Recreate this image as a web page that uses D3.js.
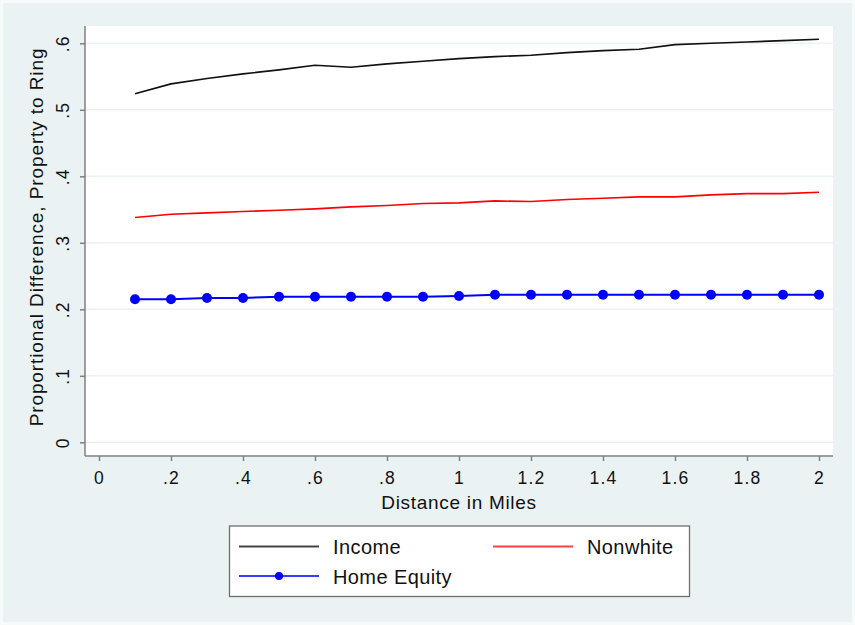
<!DOCTYPE html>
<html>
<head>
<meta charset="utf-8">
<script src="https://cdn.jsdelivr.net/npm/d3@7"></script>
<style>
  html, body { margin: 0; padding: 0; background: #eaf2f3; }
  svg { display: block; }
  text { font-family: "Liberation Sans", Arial, Helvetica, sans-serif; fill: #111; }
</style>
</head>
<body>
<svg id="chart" width="855" height="625"></svg>
<script>
const distance = [0.1,0.2,0.3,0.4,0.5,0.6,0.7,0.8,0.9,1.0,1.1,1.2,1.3,1.4,1.5,1.6,1.7,1.8,1.9,2.0];
const income = [0.524,0.539,0.547,0.554,0.560,0.567,0.564,0.569,0.573,0.577,0.580,0.582,0.586,0.589,0.591,0.598,0.600,0.602,0.604,0.606];
const nonwhite = [0.338,0.343,0.345,0.347,0.349,0.351,0.354,0.356,0.359,0.360,0.363,0.362,0.365,0.367,0.369,0.369,0.372,0.374,0.374,0.376];
const homeEquity = [0.215,0.215,0.217,0.217,0.219,0.219,0.219,0.219,0.219,0.220,0.222,0.222,0.222,0.222,0.222,0.222,0.222,0.222,0.222,0.222];
const xTicks = [0,0.2,0.4,0.6,0.8,1,1.2,1.4,1.6,1.8,2];
const xTickLabels = ["0",".2",".4",".6",".8","1","1.2","1.4","1.6","1.8","2"];
const yTicks = [0,0.1,0.2,0.3,0.4,0.5,0.6];
const yTickLabels = ["0",".1",".2",".3",".4",".5",".6"];
const seriesNames = ["Income","Nonwhite","Home Equity"];
const seriesColors = ["#111111","#ff0000","#0000ff"];
const legendColors = ["#444444","#ff4040","#3a3aff"];

const svg = d3.select("#chart");
const W = 855, H = 625;
svg.append("rect").attr("width", W).attr("height", H).attr("fill", "#eaf2f3");
svg.append("rect").attr("x", 1.5).attr("y", 1.5).attr("width", W-3).attr("height", H-3)
  .attr("fill", "none").attr("stroke", "#f6fafa").attr("stroke-width", 3);

const plot = {left: 85, right: 833, top: 26, bottom: 456};
const x = d3.scaleLinear().domain([0, 2]).range([99, 819]);
const y = d3.scaleLinear().domain([0, 0.6]).range([442.3, 43.3]);

svg.append("rect").attr("x", plot.left).attr("y", plot.top)
  .attr("width", plot.right - plot.left).attr("height", plot.bottom - plot.top)
  .attr("fill", "#ffffff");

// gridlines
svg.append("g").selectAll("line").data(yTicks).join("line")
  .attr("x1", plot.left).attr("x2", plot.right)
  .attr("y1", d => y(d)).attr("y2", d => y(d))
  .attr("stroke", "#eaf2f3").attr("stroke-width", 1.6);

// y axis
const yAxis = d3.axisLeft(y).tickValues(yTicks).tickSize(5).tickPadding(8)
  .tickFormat((d, i) => yTickLabels[i]);
const gy = svg.append("g").attr("transform", `translate(${plot.left},0)`).call(yAxis);
gy.select(".domain").attr("d", `M0,${plot.top}V${plot.bottom}`).attr("stroke", "#808080").attr("stroke-width", 1.5);
gy.selectAll(".tick line").attr("stroke", "#808080").attr("stroke-width", 1.5);
gy.selectAll(".tick text")
  .attr("font-size", 17.5).attr("letter-spacing", 1.2).attr("fill", "#111")
  .attr("transform", "rotate(-90)")
  .attr("x", 0).attr("y", -16)
  .attr("text-anchor", "middle").attr("dy", "0");

// x axis
const xAxis = d3.axisBottom(x).tickValues(xTicks).tickSize(5).tickPadding(7)
  .tickFormat((d, i) => xTickLabels[i]);
const gx = svg.append("g").attr("transform", `translate(0,${plot.bottom})`).call(xAxis);
gx.select(".domain").attr("d", `M${plot.left},0H${plot.right}`).attr("stroke", "#808080").attr("stroke-width", 1.5);
gx.selectAll(".tick line").attr("stroke", "#808080").attr("stroke-width", 1.5);
gx.selectAll(".tick text").attr("font-size", 17.5).attr("letter-spacing", 1.2).attr("fill", "#111")
  .attr("dy", 0).attr("y", 28);

// axis titles
svg.append("text").attr("x", 459).attr("y", 509)
  .attr("text-anchor", "middle").attr("font-size", 19).attr("letter-spacing", 0.7).text("Distance in Miles");
svg.append("text").attr("transform", `translate(43,${(plot.top + plot.bottom) / 2 - 4}) rotate(-90)`)
  .attr("text-anchor", "middle").attr("font-size", 19).attr("letter-spacing", 0.9).text("Proportional Difference, Property to Ring");

// series
const line = d3.line().x((d, i) => x(distance[i])).y(d => y(d));
const allSeries = [income, nonwhite, homeEquity];
allSeries.forEach((s, k) => {
  svg.append("path").datum(s).attr("d", line)
    .attr("fill", "none").attr("stroke", seriesColors[k])
    .attr("stroke-width", k === 2 ? 2 : 1.6).attr("stroke-linejoin", "round");
});
svg.append("g").selectAll("circle").data(homeEquity).join("circle")
  .attr("cx", (d, i) => x(distance[i])).attr("cy", d => y(d)).attr("r", 5)
  .attr("fill", "#0000ff");

// legend
const lg = svg.append("g");
lg.append("rect").attr("x", 229.5).attr("y", 526).attr("width", 460).attr("height", 70.5)
  .attr("fill", "#ffffff").attr("stroke", "#6e6e6e").attr("stroke-width", 1.3);
const legendItems = [
  {x: 239, y: 546.5, k: 0},
  {x: 493, y: 546.5, k: 1},
  {x: 239, y: 576, k: 2}
];
legendItems.forEach(it => {
  lg.append("line").attr("x1", it.x).attr("x2", it.x + 80).attr("y1", it.y).attr("y2", it.y)
    .attr("stroke", legendColors[it.k]).attr("stroke-width", 2);
  if (it.k === 2) {
    lg.append("circle").attr("cx", it.x + 40).attr("cy", it.y).attr("r", 4).attr("fill", "#0000ff");
  }
  lg.append("text").attr("x", it.x + 94).attr("y", it.y + 7.5)
    .attr("font-size", 20).attr("letter-spacing", 0.4).text(seriesNames[it.k]);
});
</script>
</body>
</html>
